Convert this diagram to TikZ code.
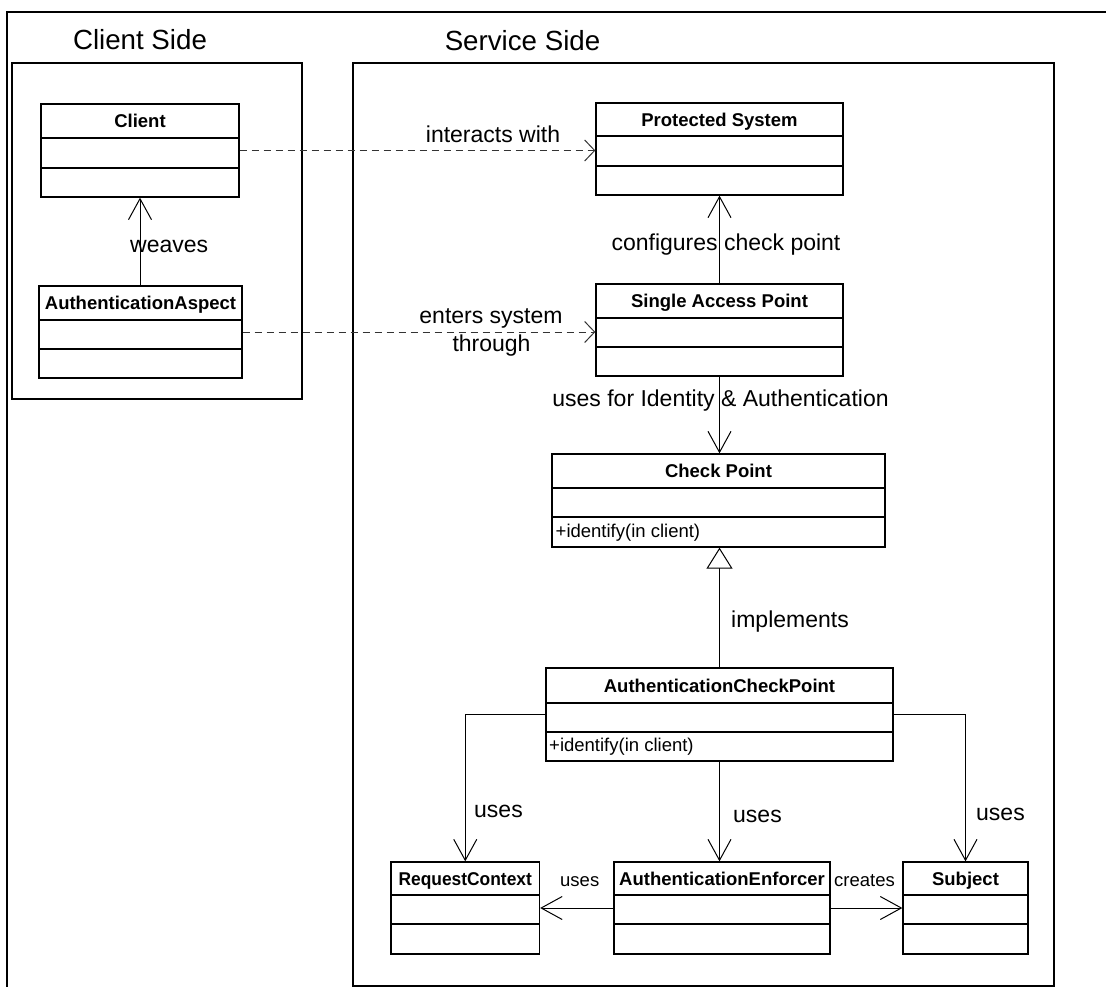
\documentclass[tikz,border=0pt]{standalone}
\usepackage{fontspec}
\setmainfont{Liberation Sans}
\usetikzlibrary{arrows.meta}

\tikzset{
  x=1pt, y=-1pt,
  frameline/.style={line width=2.5pt},
  container/.style={draw, line width=1.5pt, inner sep=0pt},
  classbox/.style={draw, line width=1.3pt, inner sep=0pt, fill=white},
  compline/.style={line width=1.3pt},
  classtitle/.style={font=\bfseries\fontsize{18.5}{20}\selectfont, inner sep=0pt, anchor=base},
  method/.style={font=\fontsize{18.5}{20}\selectfont, inner sep=0pt, anchor=base west},
  sidetitle/.style={font=\fontsize{27.7}{30}\selectfont, inner sep=0pt, anchor=base},
  lbl/.style={font=\fontsize{23}{26}\selectfont, inner sep=0pt},
  smalllbl/.style={font=\fontsize{18.5}{20}\selectfont, inner sep=0pt, anchor=base west},
  assoc/.style={line width=1pt, -{Straight Barb[length=21pt, width=23pt, line width=1pt]}},
  dep/.style={line width=1pt, draw=black!80, dash pattern=on 7pt off 5pt,
    -{Straight Barb[length=10pt, width=21pt, line width=1pt]}},
  realize/.style={line width=1pt, -{Triangle[open, length=21pt, width=26pt, line width=1pt, fill=white]}},
}

% UML class with three compartments:
% name, left, top, right, bottom, first divider, second divider, title
\newcommand\umlclass[8]{%
  \pgfmathsetmacro\clsw{#4-#2}%
  \pgfmathsetmacro\clsh{#5-#3}%
  \node[classbox, minimum width=\clsw pt, minimum height=\clsh pt] (#1) at ({(#2+#4)/2},{(#3+#5)/2}) {};
  \draw[compline] (#2,#6) -- (#4,#6) (#2,#7) -- (#4,#7);
  \node[classtitle] (#1-title) at ({(#2+#4)/2},{(#3+#6)/2+6.6}) {#8};
}

\begin{document}
\begin{tikzpicture}
\useasboundingbox (0,0) rectangle (1106,987);

% outer frame
\draw[frameline] (7,987) -- (7,12) -- (1106,12);

% the two sides
\node[container, minimum width=290pt, minimum height=336pt] (clientside) at (157,231) {};
\node[container, minimum width=701pt, minimum height=923pt] (serviceside) at (703.5,524.5) {};
\node[sidetitle] (clientside-title) at (140,50) {Client Side};
\node[sidetitle] (serviceside-title) at (522.5,51) {Service Side};

% classes
\umlclass{client}{41}{104}{239}{197}{138}{168}{Client}
\umlclass{aspect}{39}{286}{242}{378}{320}{349}{AuthenticationAspect}
\umlclass{ps}{596}{103}{843}{195}{136}{166}{Protected System}
\umlclass{sap}{596}{284}{843}{376}{318}{347}{Single Access Point}
\umlclass{cp}{552}{454}{885}{547}{488}{517}{Check Point}
\umlclass{acp}{546}{668}{893}{761}{703}{732}{AuthenticationCheckPoint}
\umlclass{rc}{391}{862}{539.5}{954}{895}{924}{\scalebox{0.94}[1]{RequestContext}}
\umlclass{ae}{614}{862}{830}{954}{895}{924}{AuthenticationEnforcer}
\umlclass{subj}{903}{862}{1028}{954}{895}{924}{Subject}

\node[method] (cp-op) at (555.5,537) {+identify(in client)};
\node[method] (acp-op) at (549,751) {+identify(in client)};

% connectors
\draw[assoc] (aspect.north -| client.south) -- (client.south);
\draw[dep] (client.east) -- (client.east -| ps.west);
\draw[dep] (aspect.east) -- (aspect.east -| sap.west);
\draw[assoc] (sap.north) -- (ps.south);
\draw[assoc] (sap.south) -- (sap.south |- cp.north);
\draw[realize] (acp.north) -- (acp.north |- cp.south);
\draw[assoc] (acp.west) -| (rc.north);
\draw[assoc] (acp.south) -- (acp.south |- ae.north);
\draw[assoc] (acp.east) -| (subj.north);
\draw[assoc] (ae.west) -- (rc.east);
\draw[assoc] (ae.east) -- (subj.west);

% connector labels
\node[lbl, anchor=base west] (l-weaves) at (130,253) {weaves};
\node[lbl, anchor=base] (l-interacts) at (493,143) {interacts with};
\node[lbl, anchor=base] (l-enters) at (491,323) {enters system};
\node[lbl, anchor=base] (l-through) at (491.5,351) {through};
\node[lbl, anchor=base] (l-configures) at (726,251) {configures check point};
\node[lbl, anchor=base] (l-identity) at (720.5,406) {uses for Identity \& Authentication};
\node[lbl, anchor=base west] (l-implements) at (731,627) {implements};
\node[lbl, anchor=base west] (l-uses-rc) at (474,817) {uses};
\node[lbl, anchor=base west] (l-uses-ae) at (733,822) {uses};
\node[lbl, anchor=base west] (l-uses-subj) at (976,820) {uses};
\node[smalllbl] (l-uses-small) at (560,886) {uses};
\node[smalllbl] (l-creates) at (834,886) {creates};
\end{tikzpicture}
\end{document}
